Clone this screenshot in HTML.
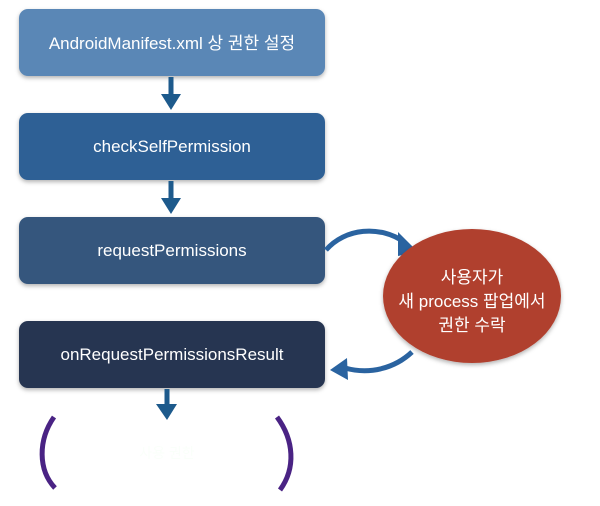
<!DOCTYPE html>
<html><head><meta charset="utf-8"><style>
html,body{margin:0;padding:0;background:#fff;width:600px;height:506px;overflow:hidden}
svg text{font-family:"Liberation Sans","Noto Sans CJK KR",sans-serif;fill:#fff;font-size:17px;text-anchor:middle}
</style></head><body>
<svg width="600" height="506" viewBox="0 0 600 506" xmlns="http://www.w3.org/2000/svg">
<defs><filter id="sh" x="-10%" y="-10%" width="120%" height="130%"><feDropShadow dx="0" dy="2" stdDeviation="2" flood-color="#000" flood-opacity="0.3"/></filter></defs>
<rect x="19" y="9" width="306" height="67" rx="9" fill="#5a87b6" filter="url(#sh)"/>
<rect x="19" y="113" width="306" height="67" rx="9" fill="#2f6095" filter="url(#sh)"/>
<rect x="19" y="217" width="306" height="67" rx="9" fill="#36577d" filter="url(#sh)"/>
<rect x="19" y="321" width="306" height="67" rx="9" fill="#273551" filter="url(#sh)"/>
<text x="172" y="49">AndroidManifest.xml 상 권한 설정</text>
<text x="172" y="152">checkSelfPermission</text>
<text x="172" y="256">requestPermissions</text>
<text x="172" y="360">onRequestPermissionsResult</text>
<g fill="#1d5a8c" stroke="#1d5a8c">
<line x1="171" y1="77" x2="171" y2="96" stroke-width="5"/><polygon points="161,94 181,94 171,110" stroke="none"/>
<line x1="171" y1="181" x2="171" y2="200" stroke-width="5"/><polygon points="161,198 181,198 171,214" stroke="none"/>
<line x1="167" y1="389" x2="167" y2="406" stroke-width="5"/><polygon points="156,404 177,404 167,420" stroke="none"/>
</g>
<path d="M326,250 C345,228 380,225 404,242" fill="none" stroke="#2a63a0" stroke-width="5"/>
<polygon points="398,232 418,252 398,256" fill="#2a63a0"/>
<path d="M412,352 C395,368 370,375 345,368" fill="none" stroke="#2a63a0" stroke-width="5"/>
<polygon points="330,370 347,358 348,380" fill="#2a63a0"/>
<ellipse cx="472" cy="296" rx="89" ry="67" fill="#b0402f" filter="url(#sh)"/>
<text x="472" y="283">사용자가</text>
<text x="472" y="307">새 process 팝업에서</text>
<text x="472" y="331">권한 수락</text>
<path d="M54,417 C38,440 38,470 55,488" fill="none" stroke="#4a2384" stroke-width="5"/>
<path d="M277,417 C294,440 296,468 280,490" fill="none" stroke="#4a2384" stroke-width="5"/>
<text x="167" y="458" style="fill:#fafffa;font-size:14px">사용 권한</text>
</svg>
</body></html>
